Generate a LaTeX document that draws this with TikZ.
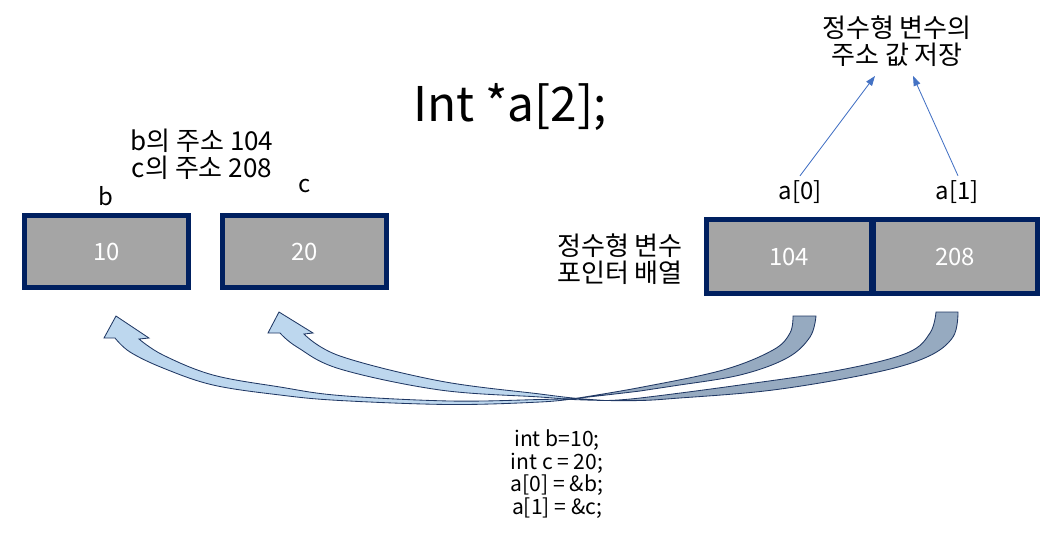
\documentclass[tikz,border=0pt]{standalone}
\usepackage{fontspec}
\setmainfont{Noto Sans CJK KR}
\usetikzlibrary{arrows.meta, positioning, calc}
\definecolor{BoxNavy}{RGB}{0,32,96}
\definecolor{BoxGray}{RGB}{165,165,165}
\definecolor{ArrLight}{RGB}{189,215,238}
\definecolor{ArrDark}{RGB}{150,170,192}
\definecolor{ArrEdge}{RGB}{32,56,100}
\definecolor{PtrBlue}{RGB}{68,114,196}

\begin{document}
\begin{tikzpicture}[x=0.025cm, y=-0.025cm,
      cell/.style={rectangle, draw=BoxNavy, line width=0.125cm, fill=BoxGray,
                   minimum width=4.1cm, minimum height=1.8cm, inner sep=0pt,
                   text=white, font=\fontsize{17}{20}\selectfont},
      lbl/.style={font=\fontsize{17}{20}\selectfont, inner sep=1pt},
      note/.style={font=\fontsize{18.5}{19}\selectfont, align=center, inner sep=1pt},
      ptr/.style={-{Triangle[length=7pt, width=5pt]}, PtrBlue, line width=0.6pt},
      blockedge/.style={line width=0.6pt, draw=ArrEdge}
    ]
    \useasboundingbox (0,0) rectangle (1057,542);

    % Title
    \node[font=\fontsize{34}{40}\selectfont] (title) at (510,107) {Int *a[2];};

    % Variables b and c
    \node[cell] (vb) at (106.5,251.5) {10};
    \node[cell, right=0.725cm of vb] (vc) {20};
    \node[lbl] (lb) at (106,196) {b};
    \node[lbl] (lc) at (305,186) {c};
    \node[note] (addr) at (202,154) {b의 주소 104\\c의 주소 208};

    % Pointer array a
    \node[cell, minimum height=1.85cm] (p0) at (789,256.5) {104};
    \node[cell, minimum height=1.85cm, right=-0.075cm of p0] (p1) {208};
    \node[lbl] (a0) at (800,192) {a[0]};
    \node[lbl] (a1) at (957,192) {a[1]};
    \node[note] (arrname) at (620,259) {정수형 변수\\포인터 배열};
    \node[note] (store) at (897,41) {정수형 변수의\\주소 값 저장};

    \draw[ptr] ($(a0.north)+(0,-3)$) -- ($(store.south)+(-22,8)$);
    \draw[ptr] ($(a1.north)+(1,-3)$) -- ($(store.south)+(16,8)$);

    % Curved block arrows: a[1] -> c
    \filldraw[blockedge, fill=ArrDark]
      plot[smooth, tension=.6] coordinates {(605,400.5) (640,400.5) (673,398.5) (773,390) (873,373) (927,357) (953,337) (958,312)}
      -- (936,312)
      -- plot[smooth, tension=.6] coordinates {(936,312) (930,333) (907,353) (840,370) (740,385) (640,398) (605,400.5)}
      -- cycle;
    \filldraw[blockedge, fill=ArrLight]
      plot[smooth, tension=.6] coordinates {(605,400.5) (573,399.5) (540,397) (440,390) (340,369) (297,347) (280,333)}
      -- (268,333) -- (279,312) -- (313,333) -- (304,334)
      -- plot[smooth, tension=.6] coordinates {(304,334) (340,356) (440,381) (540,394) (573,398) (605,400.5)}
      -- cycle;

    % Curved block arrows: a[0] -> b
    \filldraw[blockedge, fill=ArrDark]
      plot[smooth, tension=.6] coordinates {(575,398.5) (640,391) (673,386) (740,375) (787,358) (810,337) (816,316)}
      -- (793,316)
      -- plot[smooth, tension=.6] coordinates {(793,316) (790,333) (773,350) (723,370) (640,387.5) (575,398.5)}
      -- cycle;
    \filldraw[blockedge, fill=ArrLight]
      plot[smooth, tension=.6] coordinates {(575,398.5) (540,402) (450,404.5) (340,400.5) (280,395) (213,385) (163,368) (130,352) (115,338)}
      -- (104,338) -- (116,316) -- (149,338) -- (139,339)
      -- plot[smooth, tension=.6] coordinates {(139,339) (163,355) (213,375) (280,387) (340,395.5) (450,401) (540,399.5) (575,398.5)}
      -- cycle;

    % Code
    \node[font=\fontsize{15}{16.2}\selectfont, align=center] (code) at (557,474)
      {int b=10;\\int c = 20;\\a[0] = \&b;\\a[1] = \&c;};
  \end{tikzpicture}
\end{document}
